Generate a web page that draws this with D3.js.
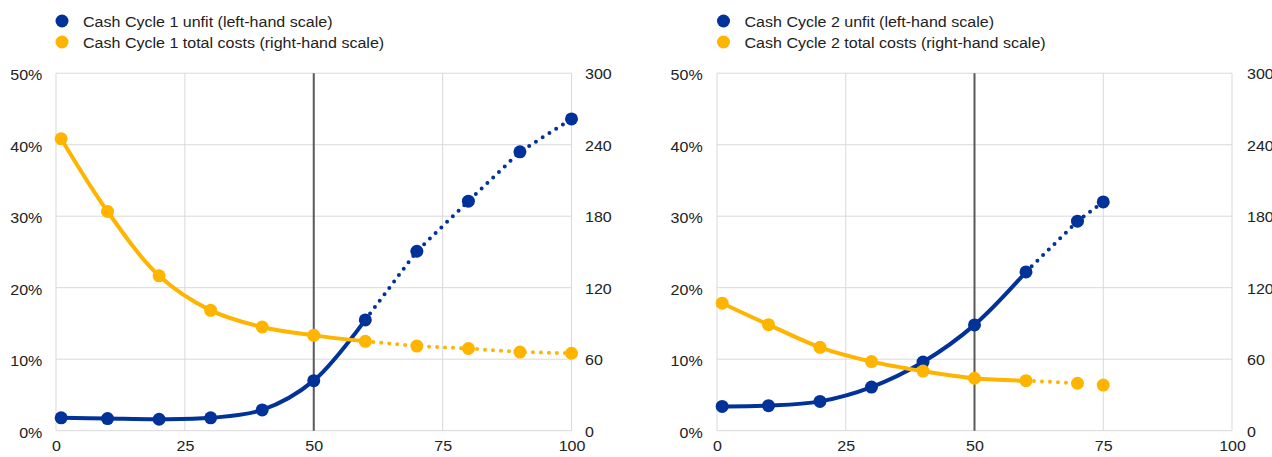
<!DOCTYPE html>
<html><head><meta charset="utf-8">
<script src="https://cdn.jsdelivr.net/npm/d3@7"></script>
<style>
html,body{margin:0;padding:0;background:#fff;}
svg text{font-family:"Liberation Sans",Arial,sans-serif;fill:#222;}
</style></head>
<body><svg id="c" width="1272" height="457"></svg>
<script>
// ---- data ----
const xs1 = [1,10,20,30,40,50,60,70,80,90,100];
const unfit1 = [1.8,1.7,1.6,1.8,2.9,7.0,15.5,25.1,32.1,39.0,43.6];
const costs1 = [245,184,130,101,87,80,75,71,69,66,65];
const xs2 = [1,10,20,30,40,50,60,70,75];
const unfit2 = [3.4,3.5,4.1,6.1,9.6,14.8,22.2,29.3,32.0];
const costs2 = [107,89,70,58,50,44,42,39.8,38.3];
const xTicks = [0,25,50,75,100];
const leftTicks = [0,10,20,30,40,50];
const rightTicks = [0,60,120,180,240,300];
const legend1 = ["Cash Cycle 1 unfit (left-hand scale)","Cash Cycle 1 total costs (right-hand scale)"];
const legend2 = ["Cash Cycle 2 unfit (left-hand scale)","Cash Cycle 2 total costs (right-hand scale)"];
const solidUntil = 60;          // observed values up to here
const costs2DottedUntil = 70;   // dotted link ends here in chart 2
const marker = 50;              // vertical reference line

const BLUE="#003299", ORANGE="#FFB400", GRID="#d9d9d9";
const FS = "15px", SX = 1.07;
const svg = d3.select("#c");

function chart(cfg){
  const g = svg.append("g");
  const x = d3.scaleLinear().domain([0,100]).range([cfg.x0, cfg.x1]);
  const yL = d3.scaleLinear().domain([0,50]).range([430.7,73.2]);
  const yR = d3.scaleLinear().domain([0,300]).range([430.7,73.2]);

  // gridlines
  g.append("g").selectAll("line").data(leftTicks).join("line")
    .attr("x1",cfg.x0).attr("x2",cfg.x1).attr("y1",d=>yL(d)).attr("y2",d=>yL(d))
    .attr("stroke",GRID).attr("stroke-width",1);
  g.append("g").selectAll("line").data(xTicks).join("line")
    .attr("x1",d=>x(d)).attr("x2",d=>x(d)).attr("y1",yL(0)).attr("y2",yL(50))
    .attr("stroke",GRID).attr("stroke-width",1);
  // vertical marker
  g.append("line").attr("x1",x(marker)).attr("x2",x(marker)).attr("y1",yL(50)).attr("y2",yL(0))
    .attr("stroke","#595959").attr("stroke-width",2);

  // axis labels
  const lAx = d3.axisLeft(yL).tickValues(leftTicks).tickFormat(d=>d+"%").tickSize(0).tickPadding(cfg.lPad);
  const la = g.append("g").attr("transform",`translate(${cfg.x0},1.5)`).call(lAx);
  const rAx = d3.axisRight(yR).tickValues(rightTicks).tickSize(0).tickPadding(cfg.rPad);
  const ra = g.append("g").attr("transform",`translate(${cfg.x1},0.5)`).call(rAx);
  const bAx = d3.axisBottom(x).tickValues(xTicks).tickSize(0).tickPadding(10);
  const ba = g.append("g").attr("transform",`translate(0,${yL(0)})`).call(bAx);
  [la,ra,ba].forEach(a=>{a.select(".domain").remove();
    a.attr("font-family",null).attr("font-size",null);
    a.selectAll("text").style("font-size",FS).attr("fill","#222")
      .attr("transform",`scale(${SX},1)`);});

  function series(xs, vals, y, color, dottedEnd){
    const pts = xs.map((d,i)=>[d, vals[i]]);
    const solid = pts.filter(p=>p[0]<=solidUntil);
    const dotted = pts.filter(p=>p[0]>=solidUntil && p[0]<=dottedEnd);
    const line = d3.line().x(p=>x(p[0])).y(p=>y(p[1]));
    g.append("path").attr("d", line.curve(d3.curveCatmullRom.alpha(0.5))(solid))
      .attr("fill","none").attr("stroke",color).attr("stroke-width",4)
      .attr("stroke-linejoin","round");
    g.append("path").attr("d", d3.line().x(p=>x(p[0])).y(p=>y(p[1]))(dotted))
      .attr("fill","none").attr("stroke",color).attr("stroke-width",4)
      .attr("stroke-linecap","round").attr("stroke-dasharray","0,8");
    g.append("g").selectAll("circle").data(pts).join("circle")
      .attr("cx",p=>x(p[0])).attr("cy",p=>y(p[1])).attr("r",6.5).attr("fill",color);
  }
  series(cfg.xs, cfg.unfit, yL, BLUE, 100);
  series(cfg.xs, cfg.costs, yR, ORANGE, cfg.costDotEnd);

  // legend
  const lg = g.append("g");
  cfg.legend.forEach((t,i)=>{
    lg.append("circle").attr("cx",cfg.legX).attr("cy",21+i*21).attr("r",6.5).attr("fill",i?ORANGE:BLUE);
    lg.append("g").attr("transform",`translate(${cfg.legX+21},${21.7+i*21}) scale(${SX},1)`)
      .append("text").attr("dy","0.35em").style("font-size",FS).text(t);
  });
}

chart({x0:56,x1:571.5,xs:xs1,unfit:unfit1,costs:costs1,costDotEnd:100,legend:legend1,legX:62,lPad:12.8,rPad:12.6});
chart({x0:717,x1:1232,xs:xs2,unfit:unfit2,costs:costs2,costDotEnd:costs2DottedUntil,legend:legend2,legX:723.5,lPad:13.4,rPad:14});
</script></body></html>
